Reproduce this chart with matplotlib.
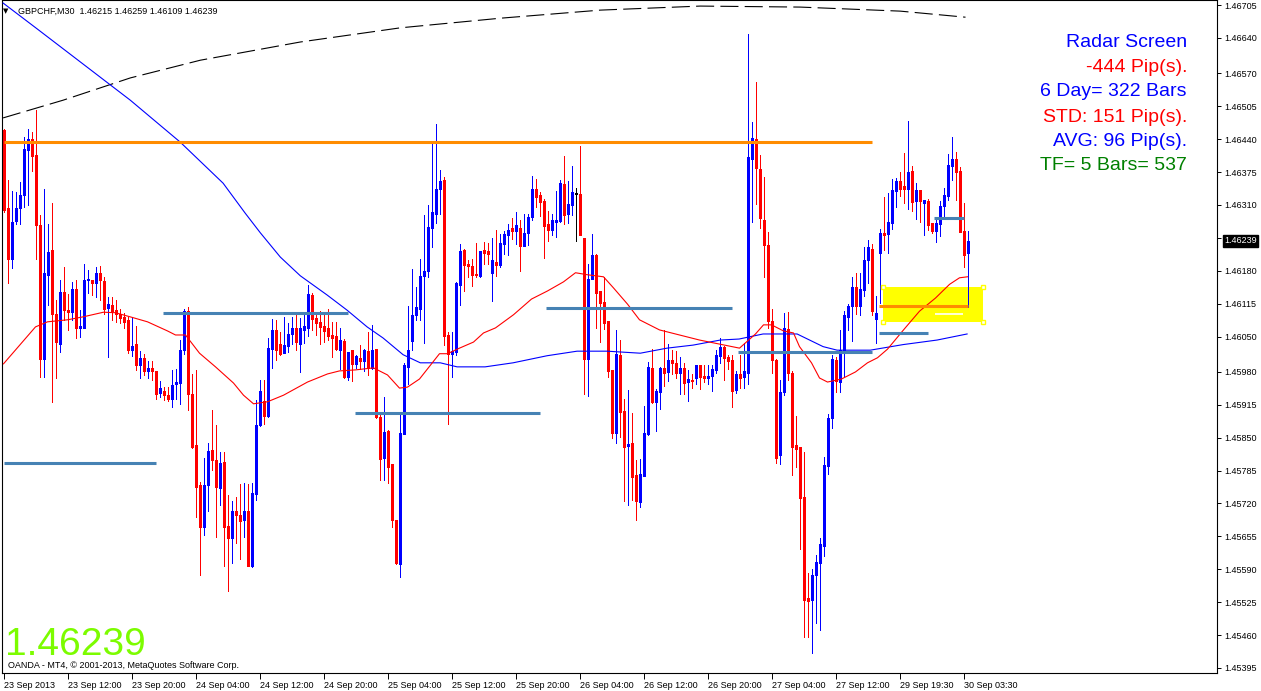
import matplotlib
matplotlib.use("Agg")
import matplotlib.pyplot as plt
import numpy as np
from matplotlib.patches import Rectangle

plt.rcParams['font.family'] = ['Liberation Sans', 'DejaVu Sans']
plt.rcParams['lines.scale_dashes'] = False

# GBPCHF M30 bars (index 0 = 23 Sep 04:00)
opens = [1.46458, 1.46303, 1.46204, 1.46279, 1.46303, 1.46329, 1.46418, 1.46441, 1.46408, 1.46270,
         1.46005, 1.46172, 1.46221, 1.46095, 1.46036, 1.46138, 1.46103, 1.46099, 1.46144, 1.46067,
         1.46067, 1.46161, 1.46161, 1.46156, 1.46176, 1.46159, 1.46107, 1.46112, 1.46103, 1.46095,
         1.46089, 1.46082, 1.46023, 1.46035, 1.45993, 1.46008, 1.45982, 1.45987, 1.45982, 1.45939,
         1.45943, 1.45934, 1.45927, 1.45956, 1.45958, 1.46023, 1.46101, 1.45937, 1.45835, 1.45756,
         1.45674, 1.45756, 1.45825, 1.45806, 1.45750, 1.45802, 1.45675, 1.45651, 1.45705, 1.45698,
         1.45688, 1.45705, 1.45596, 1.45738, 1.45875, 1.45922, 1.45893, 1.46026, 1.46062, 1.46036,
         1.46018, 1.46032, 1.46054, 1.46066, 1.46036, 1.46062, 1.46066, 1.46132, 1.46086, 1.46079,
         1.46070, 1.46066, 1.46053, 1.46051, 1.46024, 1.46041, 1.45969, 1.46023, 1.45995, 1.46008,
         1.46002, 1.46022, 1.45987, 1.46025, 1.45890, 1.45809, 1.45863, 1.45799, 1.45688, 1.45601,
         1.45858, 1.45990, 1.46041, 1.46092, 1.46104, 1.46169, 1.46179, 1.46265, 1.46293, 1.46341,
         1.46359, 1.46053, 1.46015, 1.46020, 1.46151, 1.46221, 1.46193, 1.46190, 1.46173, 1.46170,
         1.46221, 1.46219, 1.46176, 1.46198, 1.46191, 1.46232, 1.46250, 1.46265, 1.46259, 1.46265,
         1.46229, 1.46255, 1.46287, 1.46342, 1.46329, 1.46317, 1.46272, 1.46260, 1.46277, 1.46279,
         1.46351, 1.46292, 1.46310, 1.46333, 1.46331, 1.46245, 1.46005, 1.46163, 1.46211, 1.46140,
         1.46118, 1.46080, 1.45983, 1.45860, 1.46013, 1.45902, 1.45834, 1.45840, 1.45776, 1.45722,
         1.45775, 1.45858, 1.45988, 1.45920, 1.45941, 1.45988, 1.45980, 1.46003, 1.45997, 1.45978,
         1.45988, 1.45960, 1.45964, 1.45968, 1.45993, 1.45972, 1.45967, 1.45972, 1.45983, 1.46011,
         1.46030, 1.46010, 1.46003, 1.45944, 1.45975, 1.45969, 1.45977, 1.46401, 1.46441, 1.46381,
         1.46281, 1.46231, 1.46080, 1.46004, 1.45816, 1.45940, 1.46064, 1.45977, 1.45836, 1.45832,
         1.45733, 1.45534, 1.45530, 1.45578, 1.45602, 1.45635, 1.45794, 1.45889, 1.46003, 1.45961,
         1.46022, 1.46088, 1.46110, 1.46148, 1.46110, 1.46141, 1.46201, 1.46222, 1.46085, 1.46216,
         1.46254, 1.46252, 1.46274, 1.46338, 1.46358, 1.46347, 1.46341, 1.46377, 1.46317, 1.46339,
         1.46314, 1.46318, 1.46274, 1.46258, 1.46272, 1.46308, 1.46328, 1.46387, 1.46401, 1.46377,
         1.46258, 1.46215]
highs = [1.46461, 1.46359, 1.46337, 1.46336, 1.46356, 1.46445, 1.46461, 1.46454, 1.46497, 1.46290,
         1.46342, 1.46273, 1.46313, 1.46122, 1.46161, 1.46188, 1.46134, 1.46157, 1.46161, 1.46102,
         1.46194, 1.46182, 1.46161, 1.46188, 1.46190, 1.46168, 1.46128, 1.46128, 1.46123, 1.46105,
         1.46097, 1.46089, 1.46088, 1.46070, 1.46022, 1.46015, 1.46002, 1.46002, 1.45982, 1.45962,
         1.45951, 1.45951, 1.45983, 1.45985, 1.46043, 1.46105, 1.46109, 1.45976, 1.45983, 1.45763,
         1.45809, 1.45839, 1.45904, 1.45875, 1.45822, 1.45822, 1.45736, 1.45725, 1.45733, 1.45758,
         1.45760, 1.45758, 1.45760, 1.45924, 1.45964, 1.45964, 1.46047, 1.46084, 1.46082, 1.46058,
         1.46089, 1.46076, 1.46089, 1.46092, 1.46086, 1.46095, 1.46151, 1.46135, 1.46095, 1.46100,
         1.46099, 1.46105, 1.46079, 1.46079, 1.46066, 1.46045, 1.46020, 1.46023, 1.46013, 1.46034,
         1.46026, 1.46058, 1.46072, 1.46026, 1.45898, 1.45931, 1.45865, 1.45799, 1.45688, 1.45898,
         1.45997, 1.46111, 1.46184, 1.46148, 1.46203, 1.46291, 1.46310, 1.46431, 1.46470, 1.46379,
         1.46366, 1.46058, 1.46059, 1.46158, 1.46232, 1.46222, 1.46202, 1.46203, 1.46235, 1.46219,
         1.46237, 1.46235, 1.46244, 1.46261, 1.46252, 1.46258, 1.46273, 1.46285, 1.46296, 1.46281,
         1.46292, 1.46293, 1.46367, 1.46362, 1.46336, 1.46321, 1.46298, 1.46292, 1.46338, 1.46359,
         1.46406, 1.46357, 1.46387, 1.46344, 1.46426, 1.46245, 1.46194, 1.46252, 1.46213, 1.46140,
         1.46168, 1.46080, 1.45983, 1.46062, 1.46044, 1.45926, 1.45945, 1.45898, 1.45806, 1.45807,
         1.45912, 1.46000, 1.46026, 1.45947, 1.45990, 1.46062, 1.46036, 1.46023, 1.46022, 1.46010,
         1.45997, 1.45983, 1.45976, 1.45993, 1.45993, 1.45993, 1.45993, 1.45993, 1.46023, 1.46048,
         1.46031, 1.46013, 1.46013, 1.45982, 1.46014, 1.46038, 1.46647, 1.46473, 1.46552, 1.46409,
         1.46366, 1.46256, 1.46104, 1.46006, 1.45965, 1.46096, 1.46098, 1.45981, 1.45893, 1.45832,
         1.45822, 1.45582, 1.45590, 1.45618, 1.45651, 1.45812, 1.45897, 1.46014, 1.46010, 1.46062,
         1.46101, 1.46115, 1.46167, 1.46175, 1.46175, 1.46227, 1.46240, 1.46233, 1.46131, 1.46262,
         1.46326, 1.46333, 1.46362, 1.46364, 1.46376, 1.46412, 1.46476, 1.46386, 1.46353, 1.46339,
         1.46320, 1.46322, 1.46274, 1.46285, 1.46318, 1.46343, 1.46410, 1.46445, 1.46415, 1.46384,
         1.46313, 1.46259]
lows = [1.46296, 1.46156, 1.46186, 1.46273, 1.46273, 1.46306, 1.46310, 1.46377, 1.46204, 1.45969,
        1.45970, 1.46112, 1.45921, 1.45967, 1.46020, 1.46082, 1.46062, 1.46082, 1.46048, 1.46049,
        1.46067, 1.46136, 1.46132, 1.46128, 1.46123, 1.46095, 1.46010, 1.46082, 1.46079, 1.46077,
        1.46066, 1.46018, 1.46011, 1.45983, 1.45967, 1.45974, 1.45967, 1.45964, 1.45927, 1.45931,
        1.45924, 1.45922, 1.45910, 1.45927, 1.45916, 1.46016, 1.45904, 1.45829, 1.45694, 1.45578,
        1.45657, 1.45706, 1.45786, 1.45654, 1.45717, 1.45596, 1.45547, 1.45603, 1.45642, 1.45611,
        1.45654, 1.45597, 1.45595, 1.45727, 1.45873, 1.45877, 1.45890, 1.45988, 1.46003, 1.46013,
        1.46018, 1.46020, 1.46036, 1.46023, 1.45980, 1.46038, 1.46051, 1.46062, 1.46053, 1.46036,
        1.46039, 1.46043, 1.46010, 1.46023, 1.45985, 1.45967, 1.45964, 1.45962, 1.45987, 1.45985,
        1.45982, 1.45974, 1.45985, 1.45888, 1.45766, 1.45766, 1.45760, 1.45674, 1.45601, 1.45575,
        1.45858, 1.45957, 1.46023, 1.46082, 1.46082, 1.46038, 1.46168, 1.46227, 1.46275, 1.46293,
        1.46033, 1.45878, 1.45969, 1.46013, 1.46112, 1.46140, 1.46168, 1.46150, 1.46168, 1.46167,
        1.46194, 1.46193, 1.46120, 1.46169, 1.46188, 1.46213, 1.46211, 1.46242, 1.46232, 1.46179,
        1.46229, 1.46230, 1.46280, 1.46305, 1.46288, 1.46205, 1.46239, 1.46250, 1.46247, 1.46277,
        1.46273, 1.46275, 1.46291, 1.46239, 1.46250, 1.45937, 1.45932, 1.46163, 1.46067, 1.46039,
        1.46064, 1.45970, 1.45850, 1.45840, 1.45852, 1.45725, 1.45717, 1.45727, 1.45687, 1.45713,
        1.45774, 1.45856, 1.45918, 1.45863, 1.45906, 1.45952, 1.45962, 1.45976, 1.45967, 1.45937,
        1.45936, 1.45923, 1.45949, 1.45957, 1.45947, 1.45960, 1.45957, 1.45943, 1.45978, 1.45997,
        1.45965, 1.45985, 1.45911, 1.45939, 1.45949, 1.45949, 1.45957, 1.46276, 1.46312, 1.46264,
        1.46167, 1.46066, 1.45977, 1.45800, 1.45798, 1.45935, 1.45965, 1.45776, 1.45792, 1.45631,
        1.45457, 1.45457, 1.45425, 1.45483, 1.45469, 1.45617, 1.45778, 1.45870, 1.45941, 1.45940,
        1.45969, 1.46062, 1.46042, 1.46094, 1.46093, 1.46131, 1.46155, 1.46093, 1.46038, 1.46117,
        1.46221, 1.46216, 1.46262, 1.46306, 1.46328, 1.46313, 1.46301, 1.46299, 1.46282, 1.46277,
        1.46251, 1.46260, 1.46254, 1.46237, 1.46249, 1.46285, 1.46320, 1.46359, 1.46320, 1.46256,
        1.46187, 1.46109]
closes = [1.46300, 1.46204, 1.46277, 1.46303, 1.46329, 1.46420, 1.46440, 1.46407, 1.46270, 1.46005,
          1.46175, 1.46217, 1.46095, 1.46039, 1.46138, 1.46103, 1.46099, 1.46144, 1.46067, 1.46070,
          1.46161, 1.46163, 1.46156, 1.46176, 1.46161, 1.46105, 1.46114, 1.46100, 1.46095, 1.46086,
          1.46079, 1.46024, 1.46031, 1.45993, 1.46008, 1.45982, 1.45988, 1.45982, 1.45936, 1.45948,
          1.45934, 1.45927, 1.45954, 1.45960, 1.46024, 1.46101, 1.45937, 1.45832, 1.45753, 1.45674,
          1.45756, 1.45824, 1.45806, 1.45753, 1.45800, 1.45674, 1.45651, 1.45705, 1.45697, 1.45686,
          1.45705, 1.45597, 1.45740, 1.45875, 1.45942, 1.45893, 1.46028, 1.46062, 1.46023, 1.46016,
          1.46033, 1.46054, 1.46066, 1.46039, 1.46066, 1.46070, 1.46134, 1.46084, 1.46077, 1.46069,
          1.46061, 1.46051, 1.46047, 1.46025, 1.46043, 1.45969, 1.46020, 1.45995, 1.46011, 1.46002,
          1.46023, 1.45987, 1.46023, 1.45890, 1.45808, 1.45862, 1.45792, 1.45687, 1.45603, 1.45860,
          1.45993, 1.46024, 1.46092, 1.46109, 1.46169, 1.46179, 1.46267, 1.46296, 1.46342, 1.46358,
          1.46051, 1.46015, 1.46021, 1.46155, 1.46219, 1.46191, 1.46190, 1.46171, 1.46171, 1.46219,
          1.46215, 1.46213, 1.46201, 1.46191, 1.46234, 1.46252, 1.46261, 1.46259, 1.46270, 1.46229,
          1.46255, 1.46287, 1.46342, 1.46326, 1.46316, 1.46268, 1.46260, 1.46280, 1.46281, 1.46354,
          1.46290, 1.46312, 1.46336, 1.46333, 1.46250, 1.46005, 1.46163, 1.46211, 1.46136, 1.46117,
          1.46077, 1.45982, 1.45860, 1.46015, 1.45901, 1.45832, 1.45837, 1.45773, 1.45725, 1.45778,
          1.45860, 1.45990, 1.45920, 1.45943, 1.45988, 1.45978, 1.46003, 1.45997, 1.45978, 1.45988,
          1.45958, 1.45966, 1.45962, 1.45993, 1.45970, 1.45968, 1.45972, 1.45986, 1.46013, 1.46030,
          1.46007, 1.46001, 1.45943, 1.45976, 1.45967, 1.45981, 1.46405, 1.46443, 1.46383, 1.46284,
          1.46231, 1.46080, 1.46004, 1.45810, 1.45941, 1.46066, 1.45977, 1.45832, 1.45828, 1.45731,
          1.45530, 1.45528, 1.45578, 1.45604, 1.45639, 1.45796, 1.45889, 1.46006, 1.45963, 1.46023,
          1.46093, 1.46110, 1.46148, 1.46110, 1.46143, 1.46201, 1.46227, 1.46101, 1.46096, 1.46254,
          1.46251, 1.46276, 1.46339, 1.46357, 1.46341, 1.46342, 1.46376, 1.46316, 1.46339, 1.46318,
          1.46320, 1.46270, 1.46258, 1.46275, 1.46308, 1.46330, 1.46388, 1.46400, 1.46376, 1.46257,
          1.46211, 1.46239]

time_ticks = list(range(0, 241, 16))
time_labels = ["23 Sep 2013", "23 Sep 12:00", "23 Sep 20:00", "24 Sep 04:00", "24 Sep 12:00",
               "24 Sep 20:00", "25 Sep 04:00", "25 Sep 12:00", "25 Sep 20:00", "26 Sep 04:00",
               "26 Sep 12:00", "26 Sep 20:00", "27 Sep 04:00", "27 Sep 12:00", "29 Sep 19:30",
               "30 Sep 03:30"]
price_ticks = [1.46705, 1.46640, 1.46570, 1.46505, 1.46440, 1.46375, 1.46310, 1.46245, 1.46180,
               1.46115, 1.46050, 1.45980, 1.45915, 1.45850, 1.45785, 1.45720, 1.45655, 1.45590,
               1.45525, 1.45460, 1.45395]
last_price = 1.46239

# moving averages (read at sample bars)
red_ma_x = [0, 8, 11, 16, 20, 25, 28, 32.5, 36, 41, 43, 45.5, 49, 53, 57.5, 60, 62.5, 66, 70, 76,
            81, 84, 88, 92.5, 96, 99, 101, 104, 109, 111, 114, 117.5, 120, 123, 127.5, 132, 136,
            140, 143, 146, 150, 152.5, 156, 159, 164, 169, 174, 179, 184, 188, 190, 192, 195,
            197.5, 199, 202, 204, 206, 209.5, 213, 216, 218.5, 221, 225, 229, 233, 236.5, 239, 241]
red_ma_y = [1.45996, 1.46069, 1.46079, 1.46083, 1.46089, 1.46098, 1.46097, 1.46087, 1.46079,
            1.46061, 1.46053, 1.46053, 1.46017, 1.45990, 1.45958, 1.45934, 1.45917, 1.45921,
            1.45934, 1.45960, 1.45976, 1.45982, 1.45984, 1.45988, 1.45974, 1.45948, 1.45950,
            1.45966, 1.46016, 1.46016, 1.46027, 1.46039, 1.46057, 1.46067, 1.46093, 1.46124,
            1.46140, 1.46158, 1.46176, 1.46172, 1.46168, 1.46146, 1.46114, 1.46083, 1.46063,
            1.46053, 1.46043, 1.46035, 1.46027, 1.46055, 1.46073, 1.46073, 1.46061, 1.46057,
            1.46030, 1.45998, 1.45968, 1.45960, 1.45966, 1.45980, 1.45998, 1.46008, 1.46025,
            1.46063, 1.46100, 1.46126, 1.46153, 1.46166, 1.46168]
blue_ma_x = [-0.1, 8.4, 31.7, 44.2, 54.9, 60.4, 64.2, 69.2, 74.2, 80.9, 85.9, 90.9, 94.9, 99.9,
             104.2, 109.2, 113.4, 120.4, 127.4, 135.9, 143.4, 150.9, 159.2, 165.9, 172.4, 179.2,
             183.9, 189.9, 198.4, 204.9, 208.4, 216.7, 224.9, 233.4, 240.9]
blue_ma_y = [1.46709, 1.46658, 1.46517, 1.46434, 1.46353, 1.46294, 1.46255, 1.46207, 1.46170,
             1.46132, 1.46102, 1.46069, 1.46047, 1.46014, 1.45998, 1.45998, 1.45990, 1.45990,
             1.45998, 1.46012, 1.46021, 1.46021, 1.46017, 1.46027, 1.46033, 1.46043, 1.46045,
             1.46055, 1.46055, 1.46030, 1.46023, 1.46023, 1.46034, 1.46043, 1.46055]
slow_ma_x = [-0.1, 14.9, 31.7, 49.2, 74.2, 99.2, 124.2, 149.2, 174.2, 199.2, 224.2, 240.5]
slow_ma_y = [1.46482, 1.46517, 1.46561, 1.46596, 1.46632, 1.46660, 1.46679, 1.46695, 1.46703,
             1.46701, 1.46693, 1.46681]

# horizontal levels: start bar, end bar, price
pivot_start = [0, 39.8, 87.8, 135.5, 183.5, 218.8, 232.5]
pivot_end = [38, 86, 134, 182, 217, 231, 240]
pivot_price = [1.45800, 1.46097, 1.45899, 1.46106, 1.46019, 1.46057, 1.46284]
orange_start = [0, 218.8]
orange_end = [217, 241]
orange_price = [1.46434, 1.46110]
white_start, white_end, white_price = 232.8, 239.8, 1.46095
box_x0, box_x1 = 219.8, 244.8
box_lo, box_hi = 1.46079, 1.46148

radar_lines = ["Radar Screen", "-444 Pip(s).", "6 Day= 322 Bars", "STD: 151 Pip(s).",
               "AVG: 96 Pip(s).", "TF= 5 Bars= 537"]
radar_colors = ["#0000FF", "#FF0000", "#0000FF", "#FF0000", "#0000FF", "#008000"]

W, H = 1261, 691
fig = plt.figure(figsize=(W / 100, H / 100), dpi=100)
ax = fig.add_axes([2 / W, 18 / H, 1215 / W, 673 / H])
# 4 px per bar, bar centres on half pixels
ax.set_xlim(-0.375, 303.375)
ax.set_ylim(1.45385, 1.46715)

o = np.array(opens)
c = np.array(closes)
x = np.arange(len(o))
cols = np.where(c > o, "#0000FF", np.where(c < o, "#FF0000", "#000000"))

# background object first (MT4 draws it behind the bars)
ax.add_patch(Rectangle((box_x0, box_lo), box_x1 - box_x0, box_hi - box_lo,
                       facecolor="#FFFF00", edgecolor="none", zorder=0.5))
for hx in (box_x0, box_x1):
    for hy in (box_lo, box_hi):
        ax.plot(hx, hy, marker="s", ms=3.5, mfc="white", mec="#FFFF00", mew=1, zorder=6)

ax.vlines(x, lows, highs, colors=cols, lw=0.72, antialiased=False, zorder=2)
# bodies as 3 px wide strokes, at least 1 px tall
half = np.maximum(np.abs(c - o), 2e-5) / 2
mid = (o + c) / 2
bodies = ax.vlines(x, mid - half, mid + half, colors=cols, lw=2.0, antialiased=False, zorder=2.1)
bodies.set_capstyle("butt")

ax.plot(slow_ma_x, slow_ma_y, color="black", lw=0.8, dashes=(13, 4.5), zorder=3)
ax.plot(blue_ma_x, blue_ma_y, color="#0000FF", lw=0.8, zorder=3)
ax.plot(red_ma_x, red_ma_y, color="#FF0000", lw=0.8, zorder=3)

ax.hlines(pivot_price, pivot_start, pivot_end, colors="#4682B4", lw=2.2, zorder=4)
ax.hlines(orange_price, orange_start, orange_end, colors="#FF8C00", lw=2.2, zorder=4)
ax.hlines(white_price, white_start, white_end, colors="white", lw=1.2, zorder=4)

for s in ax.spines.values():
    s.set_linewidth(0.8)
ax.yaxis.tick_right()
ax.set_yticks(price_ticks)
ax.set_yticklabels([f"{p:.5f}" for p in price_ticks])
ax.tick_params(axis="y", direction="out", length=3, width=0.7, pad=2, labelsize=6.5)
ax.set_xticks(time_ticks)
ax.set_xticklabels(time_labels, ha="left")
ax.tick_params(axis="x", direction="out", length=4, width=0.7, pad=1.5, labelsize=6.5)

ax.annotate(f"{last_price:.5f}", xy=(1.0, last_price), xycoords=("axes fraction", "data"),
            xytext=(5, 0), textcoords="offset points", va="center", ha="left",
            fontsize=6.5, color="white",
            bbox=dict(boxstyle="square,pad=0.15", fc="black", ec="black"), zorder=10,
            annotation_clip=False)

# header and overlay texts
fig.text(3 / W, 1 - 13 / H, "\u25bc", fontsize=5, color="black", family="DejaVu Sans")
fig.text(18 / W, 1 - 13.5 / H, "GBPCHF,M30  1.46215 1.46259 1.46109 1.46239",
         fontsize=6.5, va="baseline")
baselines = [47, 72, 96.5, 121.5, 146, 170]
for txt, col, b in zip(radar_lines, radar_colors, baselines):
    fig.text(1187 / W, 1 - b / H, txt, fontsize=14, color=col, ha="right", va="baseline")
fig.text(5 / W, 1 - 655 / H, f"{last_price:.5f}", fontsize=28, color="#7CFC00", va="baseline")
fig.text(8 / W, 1 - 668 / H, "OANDA - MT4, \u00a9 2001-2013, MetaQuotes Software Corp.",
         fontsize=6.5, va="baseline")

fig.savefig("out.png", dpi=100)
